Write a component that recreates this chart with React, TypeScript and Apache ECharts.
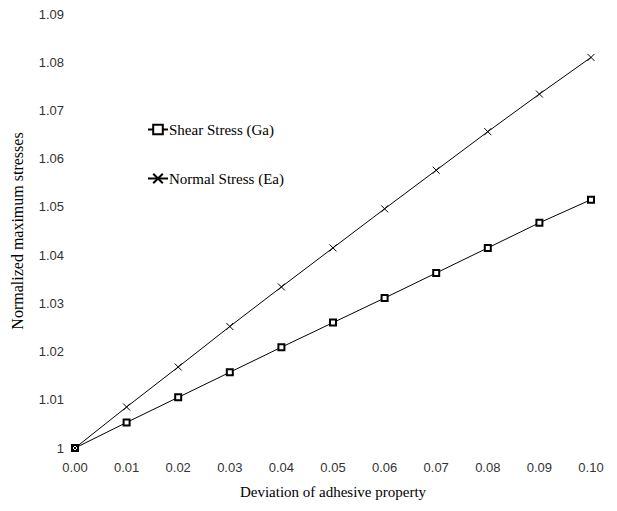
import React, { useEffect, useRef } from "react";
import * as echarts from "echarts";

const xValues = [0, 0.01, 0.02, 0.03, 0.04, 0.05, 0.06, 0.07, 0.08, 0.09, 0.1];
const shearStress = [1, 1.0053, 1.0105, 1.0157, 1.0209, 1.026, 1.0311, 1.0363, 1.0415, 1.0467, 1.0515];
const normalStress = [1, 1.0085, 1.0168, 1.0252, 1.0334, 1.0415, 1.0496, 1.0576, 1.0656, 1.0734, 1.081];
const seriesNames = ["Shear Stress (Ga)", "Normal Stress (Ea)"];
const xAxisTitle = "Deviation of adhesive property";
const yAxisTitle = "Normalized maximum stresses";

const crossSymbol = "path://M0,0L10,10M10,0L0,10";

export default function App() {
  const ref = useRef<HTMLDivElement>(null);
  useEffect(() => {
    if (!ref.current) return;
    const chart = echarts.init(ref.current, undefined, { renderer: "svg" });
    const tickFont = { fontFamily: "Liberation Sans, Arial, sans-serif", fontSize: 13, color: "#333" };
    chart.setOption({
      animation: false,
      backgroundColor: "#fff",
      grid: { left: 75, right: 26, top: 14, bottom: 63 },
      legend: {
        orient: "vertical",
        left: 142,
        top: 117,
        itemGap: 34,
        itemWidth: 20,
        itemHeight: 12,
        data: seriesNames,
        textStyle: { fontFamily: "Liberation Serif, Times New Roman, serif", fontSize: 15, color: "#000", padding: [0, 0, 0, -4] },
      },
      xAxis: {
        type: "value",
        min: 0,
        max: 0.1,
        interval: 0.01,
        name: xAxisTitle,
        nameLocation: "middle",
        nameGap: 36,
        nameTextStyle: { fontFamily: "Liberation Serif, Times New Roman, serif", fontSize: 15, color: "#000" },
        axisLine: { show: false },
        axisTick: { show: false },
        splitLine: { show: false },
        axisLabel: { ...tickFont, margin: 13, formatter: (v: number) => v.toFixed(2) },
      },
      yAxis: {
        type: "value",
        min: 1,
        max: 1.09,
        interval: 0.01,
        name: yAxisTitle,
        nameLocation: "middle",
        nameGap: 50,
        nameTextStyle: { fontFamily: "Liberation Serif, Times New Roman, serif", fontSize: 16, color: "#000" },
        axisLine: { show: false },
        axisTick: { show: false },
        splitLine: { show: false },
        axisLabel: {
          ...tickFont,
          margin: 11,
          formatter: (v: number) => (Math.abs(v - 1) < 1e-9 ? "1" : v.toFixed(2)),
        },
      },
      series: [
        {
          name: seriesNames[0],
          type: "line",
          data: xValues.map((x, i) => [x, shearStress[i]]),
          symbol: "emptyRect",
          symbolSize: 6,
          showAllSymbol: true,
          lineStyle: { color: "#000", width: 1 },
          itemStyle: { color: "#000", borderColor: "#000", borderWidth: 0.7 },
        },
        {
          name: seriesNames[1],
          type: "line",
          data: xValues.map((x, i) => [x, normalStress[i]]),
          symbol: crossSymbol,
          symbolSize: 7,
          showAllSymbol: true,
          lineStyle: { color: "#000", width: 1 },
          itemStyle: { color: "none", borderColor: "#000", borderWidth: 1 },
        },
      ],
    });
    return () => chart.dispose();
  }, []);
  return <div ref={ref} style={{ width: 617, height: 511, position: "absolute", left: 0, top: 0 }} />;
}
